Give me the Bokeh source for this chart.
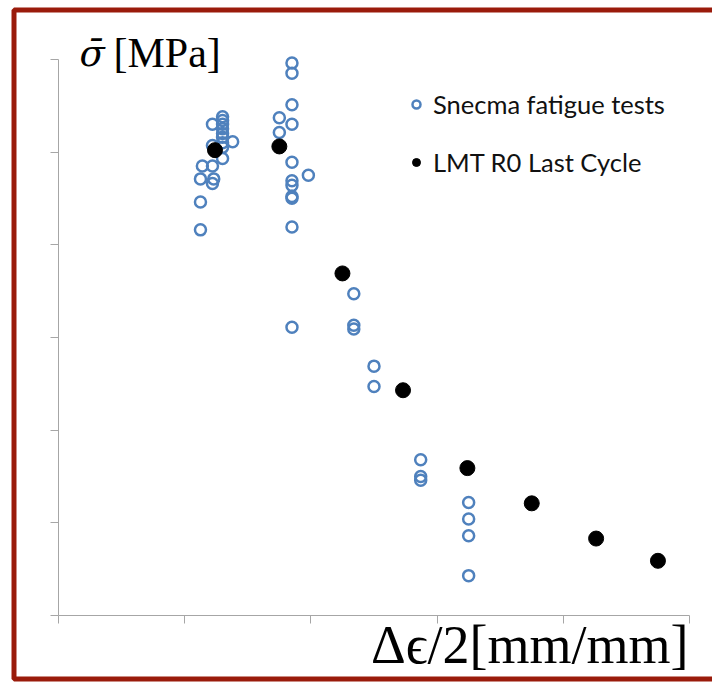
from bokeh.plotting import figure
from bokeh.models import (LinearAxis, FixedTicker, Legend, LegendItem, Label,
                          BoxAnnotation, ColumnDataSource)
from bokeh.embed import file_html
from bokeh.resources import INLINE

# ---- data (axis units: x ticks 0..5, y ticks 0..6) ----
snecma_x = [1.125, 1.125, 1.125, 1.23, 1.22, 1.14, 1.22, 1.30, 1.22, 1.38, 1.22,
            1.30, 1.30, 1.30, 1.30, 1.30, 1.30, 1.30, 1.30,
            1.85, 1.85, 1.85, 1.75, 1.85, 1.75, 1.85, 1.98, 1.85, 1.85, 1.85, 1.85, 1.85, 1.85,
            2.34, 2.34, 2.34, 2.50, 2.50, 2.87, 2.87, 2.87, 3.25, 3.25, 3.25, 3.25]
snecma_y = [4.16, 4.46, 4.71, 4.71, 4.66, 4.85, 4.85, 4.93, 5.07, 5.11, 5.30,
            5.38, 5.34, 5.30, 5.25, 5.20, 5.16, 5.10, 5.05,
            5.96, 5.85, 5.51, 5.37, 5.30, 5.21, 4.89, 4.75, 4.69, 4.64, 4.52, 4.50, 4.19, 3.11,
            3.47, 3.13, 3.09, 2.69, 2.47, 1.68, 1.50, 1.46, 1.22, 1.04, 0.86, 0.43]

lmt_x = [1.24, 1.75, 2.25, 2.73, 3.24, 3.75, 4.26, 4.75]
lmt_y = [5.02, 5.06, 3.69, 2.43, 1.59, 1.21, 0.83, 0.59]

x_ticks = [0, 1, 2, 3, 4, 5]
y_ticks = [0, 1, 2, 3, 4, 5, 6]

series_labels = ["Snecma fatigue tests", "LMT R0 Last Cycle"]
y_label_sym = "\u03c3\u0304"
y_label_unit = "[MPa]"
x_label = "\u0394\u03f5/2[mm/mm]"

BLUE = "#4f81bd"
RED = "#9a1b0b"
AXIS = "#a6a6a6"

W, H = 712, 682
# pixel layout of the axes box (x: 0..5, y: 0..6)
X0, XS = 58.0, 126.2
Y0, YS = 615.0, 92.7

p = figure(width=W, height=H,
           x_range=(-X0 / XS, (W - X0) / XS),
           y_range=((Y0 - H) / YS, Y0 / YS),
           x_axis_type=None, y_axis_type=None,
           output_backend="svg", toolbar_location=None,
           min_border=0, min_border_left=0, min_border_right=0,
           min_border_top=0, min_border_bottom=0)
p.outline_line_color = None
p.background_fill_color = "white"
p.border_fill_color = "white"

for place, ticks in (("below", x_ticks), ("left", y_ticks)):
    ax = LinearAxis(ticker=FixedTicker(ticks=ticks), fixed_location=0,
                    bounds=(ticks[0], ticks[-1]),
                    major_label_overrides={t: "" for t in ticks})
    ax.axis_line_color = AXIS
    ax.major_tick_line_color = AXIS
    ax.major_tick_out = 8
    ax.major_tick_in = 0
    ax.minor_tick_line_color = None
    ax.major_label_text_font_size = "1px"
    p.add_layout(ax, place)

src_s = ColumnDataSource(dict(x=snecma_x, y=snecma_y))
src_l = ColumnDataSource(dict(x=lmt_x, y=lmt_y))
r1 = p.scatter("x", "y", source=src_s, marker="circle", size=11,
               fill_color=None, line_color=BLUE, line_width=2.5)
r2 = p.scatter("x", "y", source=src_l, marker="circle", size=15,
               fill_color="black", line_color="black")

legend = Legend(items=[LegendItem(label=series_labels[0], renderers=[r1]),
                       LegendItem(label=series_labels[1], renderers=[r2])],
                location=(406, 505), padding=0, margin=0, spacing=28,
                glyph_width=20, glyph_height=20, label_height=30,
                label_standoff=7, border_line_color=None,
                background_fill_alpha=0,
                label_text_font="Lato", label_text_font_size="25.5px",
                label_text_color="#111111")
p.add_layout(legend)

p.add_layout(Label(x=(79 - X0) / XS, y=(Y0 - 53) / YS, text=y_label_sym,
                   text_font="DejaVu Serif", text_font_style="italic",
                   text_font_size="37px", text_baseline="alphabetic",
                   text_color="black"))
p.add_layout(Label(x=(113 - X0) / XS, y=(Y0 - 52) / YS, text=y_label_unit,
                   text_font="Liberation Serif", text_font_size="42px",
                   text_baseline="alphabetic", text_color="black"))
p.add_layout(Label(x=(688 - X0) / XS, y=(Y0 - 644) / YS, text=x_label,
                   text_font="Liberation Serif", text_font_size="54px",
                   text_baseline="alphabetic", text_align="right",
                   text_color="black"))

p.add_layout(BoxAnnotation(left=(13.5 - X0) / XS, right=(W + 40 - X0) / XS,
                           top=(Y0 - 9.5) / YS, bottom=(Y0 - 678.5) / YS,
                           fill_color=None, fill_alpha=0,
                           line_color=RED, line_alpha=1.0, line_width=5))

open("out.html", "w").write(file_html(p, INLINE))
